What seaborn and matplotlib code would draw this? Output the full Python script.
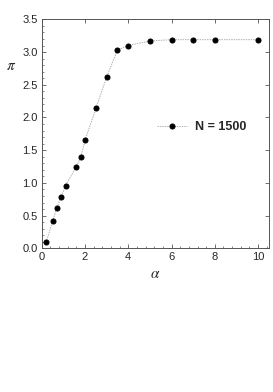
import matplotlib
matplotlib.use("Agg")
import matplotlib.pyplot as plt
import seaborn as sns
import pandas as pd
from matplotlib.ticker import MultipleLocator

# data
alpha = [0.2, 0.5, 0.7, 0.9, 1.1, 1.6, 1.8, 2.0, 2.5, 3.0, 3.5, 4.0, 5.0, 6.0, 7.0, 8.0, 10.0]
pi_vals = [0.09, 0.41, 0.62, 0.79, 0.96, 1.25, 1.39, 1.65, 2.14, 2.62, 3.03, 3.10, 3.17, 3.19, 3.19, 3.19, 3.19]
series_label = "N = 1500"

df = pd.DataFrame({"alpha": alpha, "pi": pi_vals})

sns.set_style("ticks")
plt.rcParams['font.family'] = ['Liberation Sans', 'DejaVu Sans']
plt.rcParams['mathtext.fontset'] = 'stix'

fig = plt.figure(figsize=(2.73, 3.92), dpi=100)
ax = fig.add_axes([0.153, 0.3666, 0.832, 0.584])

sns.lineplot(data=df, x="alpha", y="pi", ax=ax, color="#b0b0b0", lw=0.7,
             linestyle=(0, (1.5, 1)), marker="o", markersize=3.6,
             markerfacecolor="black", markeredgecolor="black", label=series_label)

ax.set_xlim(0, 10.5)
ax.set_ylim(0, 3.5)
ax.xaxis.set_major_locator(MultipleLocator(2))
ax.xaxis.set_minor_locator(MultipleLocator(0.4))
ax.yaxis.set_major_locator(MultipleLocator(0.5))
ax.yaxis.set_minor_locator(MultipleLocator(0.1))
ax.yaxis.set_major_formatter(plt.FormatStrFormatter('%.1f'))

ax.tick_params(which="both", direction="in", labelsize=8, color="#555555")
ax.tick_params(which="major", length=3, width=0.6, pad=3)
ax.tick_params(which="minor", length=1.5, width=0.5)
ax.tick_params(which="major", top=True, right=True)
for s in ax.spines.values():
    s.set_linewidth(0.7)
    s.set_color("#555555")

ax.set_xlabel(r"$\alpha$", fontsize=11, labelpad=3)
ax.set_ylabel(r"$\pi$", fontsize=11, rotation=0, va="center", ha="center")
ax.yaxis.set_label_coords(-0.135, 0.796)

leg = ax.legend(loc="center left", bbox_to_anchor=(0.48, 0.53), frameon=False,
                borderpad=0, handlelength=2.4, handletextpad=0.6,
                prop={"weight": "bold", "size": 9})

fig.savefig("out.png", dpi=100)
